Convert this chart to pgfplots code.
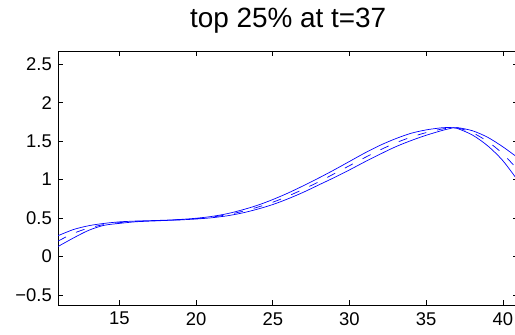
\documentclass[border=0pt]{standalone}
\usepackage{fontspec}
\setmainfont{Liberation Sans}
\usepackage{pgfplots}
\usepackage{pgfplotstable}
\pgfplotsset{compat=1.18}

% columns: x, leading curve, central (dashed) curve, lagging curve
\pgfplotstableread{
x     A      M      B
11    0.27   0.20   0.13
12    0.35   0.30   0.24
13    0.40   0.37   0.34
14    0.43   0.415  0.405
15    0.45   0.44   0.43
16    0.46   0.455  0.45
17    0.466  0.463  0.46
18    0.472  0.47   0.468
19    0.482  0.479  0.476
20    0.497  0.492  0.487
21    0.52   0.512  0.503
22    0.555  0.542  0.528
23    0.605  0.585  0.565
24    0.665  0.64   0.615
25    0.74   0.705  0.675
26    0.825  0.785  0.75
27    0.92   0.875  0.835
28    1.02   0.97   0.93
29    1.125  1.075  1.025
30    1.235  1.18   1.125
31    1.345  1.285  1.23
32    1.445  1.385  1.33
33    1.53   1.475  1.425
34    1.60   1.55   1.505
35    1.645  1.61   1.575
36    1.672  1.655  1.635
36.5  1.675  1.668  1.66
37    1.665  1.672  1.675
38    1.58   1.61   1.635
39    1.44   1.495  1.55
40    1.245  1.335  1.425
41    0.98   1.12   1.28
}\curves

\definecolor{mblue}{RGB}{0,0,255}

\begin{document}
\begin{tikzpicture}
\useasboundingbox (0,0) rectangle (515bp,335bp);
\begin{axis}[
  at={(58bp,30bp)}, anchor=south west,
  scale only axis,
  width=460.2bp, height=254bp,
  xmin=11, xmax=41,
  ymin=-0.63, ymax=2.67,
  xtick={15,20,...,40},
  ytick={-0.5,0,0.5,1,1.5,2,2.5},
  yticklabels={−0.5,0,0.5,1,1.5,2,2.5},
  tick align=inside,
  major tick length=5bp,
  axis line style={line width=0.9bp},
  every tick/.style={black, line width=0.6bp},
  tick label style={font=\fontsize{18.5}{22}\selectfont, inner sep=0pt},
  xticklabel shift=7bp,
  yticklabel shift=6bp,
  /pgf/number format/assume math mode=true,
  title={top 25\% at t=37},
  title style={font=\fontsize{28}{33}\selectfont, anchor=base, at={(0.5,1)}, yshift=18bp, inner sep=0pt},
]
\addplot[mblue, line width=0.7bp, smooth] table[x=x, y=A] {\curves};
\addplot[mblue, line width=0.7bp, smooth, dash pattern=on 9bp off 11bp] table[x=x, y=M] {\curves};
\addplot[mblue, line width=0.7bp, smooth] table[x=x, y=B] {\curves};
\end{axis}
\end{tikzpicture}
\end{document}
